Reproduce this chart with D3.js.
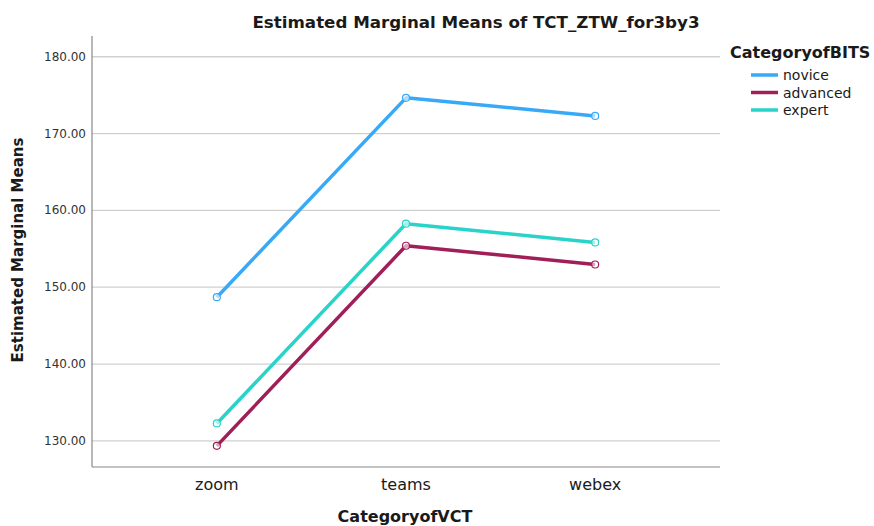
<!DOCTYPE html>
<html>
<head>
<meta charset="utf-8">
<script src="https://cdn.jsdelivr.net/npm/d3@7"></script>
<style>
  body { margin: 0; background: #fff; }
  text { font-family: "DejaVu Sans", sans-serif; fill: #1a1a1a; }
  .title { font-weight: bold; font-size: 16.7px; }
  .axisTitle { font-weight: bold; font-size: 16px; }
  .yTitle { font-weight: bold; font-size: 15px; }
  .yTick { font-size: 12px; fill: #333; }
  .xTick { font-size: 16px; }
  .legendTitle { font-weight: bold; font-size: 16px; }
  .legendText { font-size: 14px; }
</style>
</head>
<body>
<div id="chart"></div>
<script>
// categories on x axis
let categories = ["zoom", "teams", "webex"];
// series (CategoryofBITS)
let seriesNames = ["novice", "advanced", "expert"];
let seriesColors = ["#38a9f7", "#a01f58", "#2ad3c9"];
let novice = [148.7, 174.65, 172.3];
let advanced = [129.35, 155.4, 152.96];
let expert = [132.27, 158.27, 155.83];
let yTicks = [130, 140, 150, 160, 170, 180];

let seriesValues = [novice, advanced, expert];

let width = 874, height = 526;
let margin = {top: 36, right: 154, bottom: 59, left: 92};

let svg = d3.select("#chart").append("svg")
    .attr("width", width)
    .attr("height", height);

let x = d3.scalePoint()
    .domain(categories)
    .range([margin.left, width - margin.right])
    .padding(0.66);

let y = d3.scaleLinear()
    .domain([126.6, 182.7])
    .range([height - margin.bottom, margin.top]);

// gridlines
svg.append("g").selectAll("line").data(yTicks).enter().append("line")
    .attr("x1", margin.left)
    .attr("x2", width - margin.right)
    .attr("y1", d => y(d))
    .attr("y2", d => y(d))
    .attr("stroke", "#d0d0d0")
    .attr("stroke-width", 1.3);

// axes lines
svg.append("line")
    .attr("x1", margin.left).attr("x2", margin.left)
    .attr("y1", margin.top).attr("y2", height - margin.bottom)
    .attr("stroke", "#888").attr("stroke-width", 1.2);
svg.append("line")
    .attr("x1", margin.left).attr("x2", width - margin.right)
    .attr("y1", height - margin.bottom).attr("y2", height - margin.bottom)
    .attr("stroke", "#888").attr("stroke-width", 1.2);

// y tick labels
svg.append("g").selectAll("text").data(yTicks).enter().append("text")
    .attr("x", margin.left - 6)
    .attr("y", d => y(d) + 4)
    .attr("text-anchor", "end")
    .classed("yTick", true)
    .text(d => d.toFixed(2));

// x tick labels
svg.append("g").selectAll("text").data(categories).enter().append("text")
    .attr("x", d => x(d))
    .attr("y", 490)
    .attr("text-anchor", "middle")
    .classed("xTick", true)
    .text(d => d);

// lines
let line = d3.line()
    .x((d, i) => x(categories[i]))
    .y(d => y(d));

let groups = svg.append("g").selectAll("g").data(seriesValues).enter().append("g");

groups.append("path")
    .attr("d", d => line(d))
    .attr("fill", "none")
    .attr("stroke", (d, i) => seriesColors[i])
    .attr("stroke-width", 3.5)
    .attr("stroke-linejoin", "round");

groups.each(function(vals, si){
    d3.select(this).selectAll("circle").data(vals).enter().append("circle")
        .attr("cx", (d, i) => x(categories[i]))
        .attr("cy", d => y(d))
        .attr("r", 3.5)
        .attr("fill", "#fff")
        .attr("fill-opacity", 0.6)
        .attr("stroke", seriesColors[si])
        .attr("stroke-width", 1.2);
});

// titles
svg.append("text")
    .attr("x", 476).attr("y", 28)
    .attr("text-anchor", "middle")
    .classed("title", true)
    .text("Estimated Marginal Means of TCT_ZTW_for3by3");

svg.append("text")
    .attr("x", 405).attr("y", 522)
    .attr("text-anchor", "middle")
    .classed("axisTitle", true)
    .text("CategoryofVCT");

svg.append("text")
    .attr("transform", "translate(23,250) rotate(-90)")
    .attr("text-anchor", "middle")
    .classed("yTitle", true)
    .text("Estimated Marginal Means");

// legend
svg.append("text")
    .attr("x", 730).attr("y", 58)
    .classed("legendTitle", true)
    .text("CategoryofBITS");

let legend = svg.append("g").selectAll("g").data(seriesNames).enter().append("g")
    .attr("transform", (d, i) => "translate(751," + (75 + i * 17.5) + ")");
legend.append("line")
    .attr("x1", 0).attr("x2", 27)
    .attr("stroke", (d, i) => seriesColors[i])
    .attr("stroke-width", 3.5);
legend.append("text")
    .attr("x", 32).attr("y", 5)
    .classed("legendText", true)
    .text(d => d);
</script>
</body>
</html>
